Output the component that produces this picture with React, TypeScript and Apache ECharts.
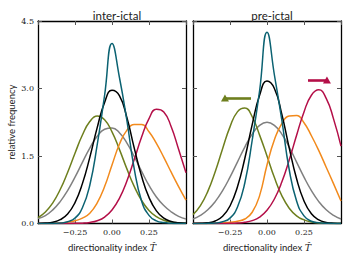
import React, { useEffect, useRef } from "react";
import * as echarts from "echarts";

const xs = [-0.5, -0.45, -0.4, -0.35, -0.3, -0.25, -0.2, -0.15, -0.1, -0.05, 0, 0.05, 0.1, 0.15, 0.2, 0.25, 0.3, 0.35, 0.4, 0.45, 0.5];

// inter-ictal
const interTeal = [0, 0, 0.002, 0.01, 0.04, 0.12, 0.35, 0.85, 1.75, 2.85, 4.0, 3.25, 2.3, 1.22, 0.5, 0.18, 0.06, 0.02, 0.005, 0, 0];
const interBlack = [0.002, 0.009, 0.03, 0.085, 0.21, 0.465, 0.886, 1.47, 2.13, 2.69, 2.96, 2.84, 2.36, 1.68, 1.05, 0.58, 0.28, 0.12, 0.045, 0.015, 0.004];
const interGray = [0.11, 0.177, 0.303, 0.487, 0.732, 1.03, 1.358, 1.676, 1.937, 2.096, 2.124, 2.015, 1.79, 1.489, 1.16, 0.846, 0.59, 0.4, 0.26, 0.16, 0.1];
const interOlive = [0.131, 0.256, 0.46, 0.755, 1.135, 1.562, 1.966, 2.265, 2.389, 2.306, 2.037, 1.647, 1.219, 0.825, 0.511, 0.29, 0.151, 0.072, 0.031, 0.012, 0.005];
const interOrange = [0, 0.002, 0.005, 0.012, 0.03, 0.06, 0.12, 0.23, 0.46, 0.82, 1.3, 1.76, 2.07, 2.2, 2.2, 2.04, 1.78, 1.47, 1.14, 0.82, 0.52];
const interCrimson = [0, 0, 0, 0, 0.001, 0.003, 0.008, 0.024, 0.062, 0.144, 0.3, 0.56, 0.94, 1.42, 1.92, 2.33, 2.54, 2.48, 2.15, 1.65, 1.13];

// pre-ictal
const preTeal = [0, 0, 0.003, 0.01, 0.04, 0.12, 0.36, 0.9, 1.85, 2.95, 4.25, 3.3, 2.3, 1.2, 0.5, 0.17, 0.05, 0.015, 0.004, 0, 0];
const preBlack = [0.001, 0.004, 0.017, 0.056, 0.16, 0.389, 0.811, 1.444, 2.196, 2.851, 3.164, 2.999, 2.428, 1.68, 0.993, 0.501, 0.216, 0.08, 0.025, 0.007, 0.002];
const preGray = [0.099, 0.179, 0.305, 0.487, 0.731, 1.03, 1.365, 1.698, 1.986, 2.181, 2.25, 2.181, 1.986, 1.698, 1.365, 1.03, 0.731, 0.487, 0.305, 0.179, 0.099];
const preOlive = [0.197, 0.397, 0.714, 1.152, 1.663, 2.147, 2.48, 2.564, 2.372, 1.964, 1.5, 1.02, 0.62, 0.34, 0.17, 0.08, 0.035, 0.013, 0.004, 0.001, 0];
const preOrange = [0, 0, 0.002, 0.005, 0.012, 0.03, 0.05, 0.1, 0.25, 0.62, 1.3, 1.86, 2.22, 2.39, 2.4, 2.24, 1.95, 1.62, 1.25, 0.88, 0.5];
const preCrimson = [0, 0, 0, 0, 0.001, 0.003, 0.009, 0.026, 0.064, 0.143, 0.293, 0.545, 0.92, 1.41, 1.96, 2.48, 2.85, 2.97, 2.78, 2.32, 1.72];

// shift arrows in pre-ictal panel: [start, end]
const arrowOlive = [[-0.108, 2.79], [-0.284, 2.79]];
const arrowCrimson = [[0.277, 3.19], [0.405, 3.19]];

const panelTitles = ["inter-ictal", "pre-ictal"];
const yTicks = [0, 1.5, 3.0, 4.5];

const COLORS = {
  teal: "#0b6272",
  black: "#000000",
  gray: "#808080",
  olive: "#6e7f1e",
  orange: "#f28a1c",
  crimson: "#b40f48",
};

const TICK_FONT = "DejaVu Serif";
const TEXT_FONT = "Lato";

export default function App() {
  const ref = useRef<HTMLDivElement>(null);

  useEffect(() => {
    if (!ref.current) return;
    const chart = echarts.init(ref.current, null, { renderer: "svg" });

    const pairs = (vals: number[]) => xs.map((x, i) => [x, vals[i]]);
    const grids = [
      { left: 38, top: 21, width: 148, height: 202.5 },
      { left: 193, top: 21, width: 148, height: 202.5 },
    ];

    const axisLine = { show: true, onZero: false, lineStyle: { color: "#000", width: 1.3 } };
    const tick = { show: true, inside: true, length: 4, lineStyle: { color: "#555", width: 1 } };
    const xLabelFmt = (v: number) => {
      if (Math.abs(v) > 0.49) return "";
      if (Math.abs(v) < 1e-9) return "0.00";
      return (v < 0 ? "\u2212" : "") + Math.abs(v).toFixed(2);
    };

    const xAxes: any[] = [];
    const yAxes: any[] = [];
    [0, 1].forEach((g) => {
      xAxes.push({
        type: "value", gridIndex: g, min: -0.5, max: 0.5, interval: 0.25, position: "bottom",
        axisLine, axisTick: tick, splitLine: { show: false },
        axisLabel: { formatter: xLabelFmt, fontFamily: TICK_FONT, fontSize: 8, color: "#222", margin: 5, showMinLabel: false, showMaxLabel: false },
        name: "directionality index {it|T\u0302}",
        nameLocation: "middle", nameGap: 19,
        nameTextStyle: {
          fontFamily: TEXT_FONT, fontSize: 9.5, color: "#222",
          rich: { it: { fontFamily: "DejaVu Serif", fontStyle: "italic", fontSize: 9.5, color: "#222" } },
        },
      });
      xAxes.push({
        type: "value", gridIndex: g, min: -0.5, max: 0.5, interval: 0.25, position: "top",
        axisLine, axisTick: tick, splitLine: { show: false }, axisLabel: { show: false },
      });
      yAxes.push({
        type: "value", gridIndex: g, min: 0, max: 4.5, interval: 1.5, position: "left",
        axisLine, axisTick: tick, splitLine: { show: false },
        axisLabel: {
          show: g === 0, fontFamily: TICK_FONT, fontSize: 8, color: "#222", margin: 4,
          formatter: (v: number) => (yTicks.includes(v) ? v.toFixed(1) : ""),
        },
        name: g === 0 ? "relative frequency" : "",
        nameLocation: "middle", nameGap: 22, nameRotate: 90,
        nameTextStyle: { fontFamily: TEXT_FONT, fontSize: 9.5, color: "#222" },
      });
      yAxes.push({
        type: "value", gridIndex: g, min: 0, max: 4.5, interval: 1.5, position: "right",
        axisLine, axisTick: tick, splitLine: { show: false }, axisLabel: { show: false },
      });
    });

    const mk = (name: string, vals: number[], color: string, g: number) => ({
      name, type: "line", xAxisIndex: g * 2, yAxisIndex: g * 2, data: pairs(vals),
      smooth: 0.5, showSymbol: false, symbol: "none",
      lineStyle: { color, width: 1.5 }, silent: true,
    });

    const arrowLine = (pts: number[][], color: string) => ({
      silent: true, symbol: ["none", "triangle"], symbolSize: [8, 7], symbolRotate: 0,
      label: { show: false },
      lineStyle: { color, width: 2.6, type: "solid" },
      data: [[{ coord: pts[0] }, { coord: pts[1] }]],
    });

    const series: any[] = [];
    const sets = [
      [interGray, interOlive, interOrange, interCrimson, interBlack, interTeal],
      [preGray, preOlive, preOrange, preCrimson, preBlack, preTeal],
    ];
    const cols = [COLORS.gray, COLORS.olive, COLORS.orange, COLORS.crimson, COLORS.black, COLORS.teal];
    const names = ["gray", "olive", "orange", "crimson", "black", "teal"];
    sets.forEach((set, g) => {
      set.forEach((vals, i) => series.push(mk(`${panelTitles[g]}-${names[i]}`, vals, cols[i], g)));
    });
    series.push({
      type: "line", xAxisIndex: 2, yAxisIndex: 2, data: [], silent: true,
      markLine: arrowLine(arrowOlive, COLORS.olive),
    });
    series.push({
      type: "line", xAxisIndex: 2, yAxisIndex: 2, data: [], silent: true,
      markLine: arrowLine(arrowCrimson, COLORS.crimson),
    });

    chart.setOption({
      animation: false,
      backgroundColor: "#fff",
      title: panelTitles.map((t, g) => ({
        text: t, left: grids[g].left + grids[g].width / 2, top: 4, textAlign: "center",
        textStyle: { fontFamily: TEXT_FONT, fontSize: 11.5, fontWeight: "normal", color: "#222" },
      })),
      grid: grids,
      xAxis: xAxes,
      yAxis: yAxes,
      series,
    });

    return () => chart.dispose();
  }, []);

  return <div ref={ref} style={{ width: 348, height: 263, position: "absolute", left: 0, top: 0 }} />;
}
